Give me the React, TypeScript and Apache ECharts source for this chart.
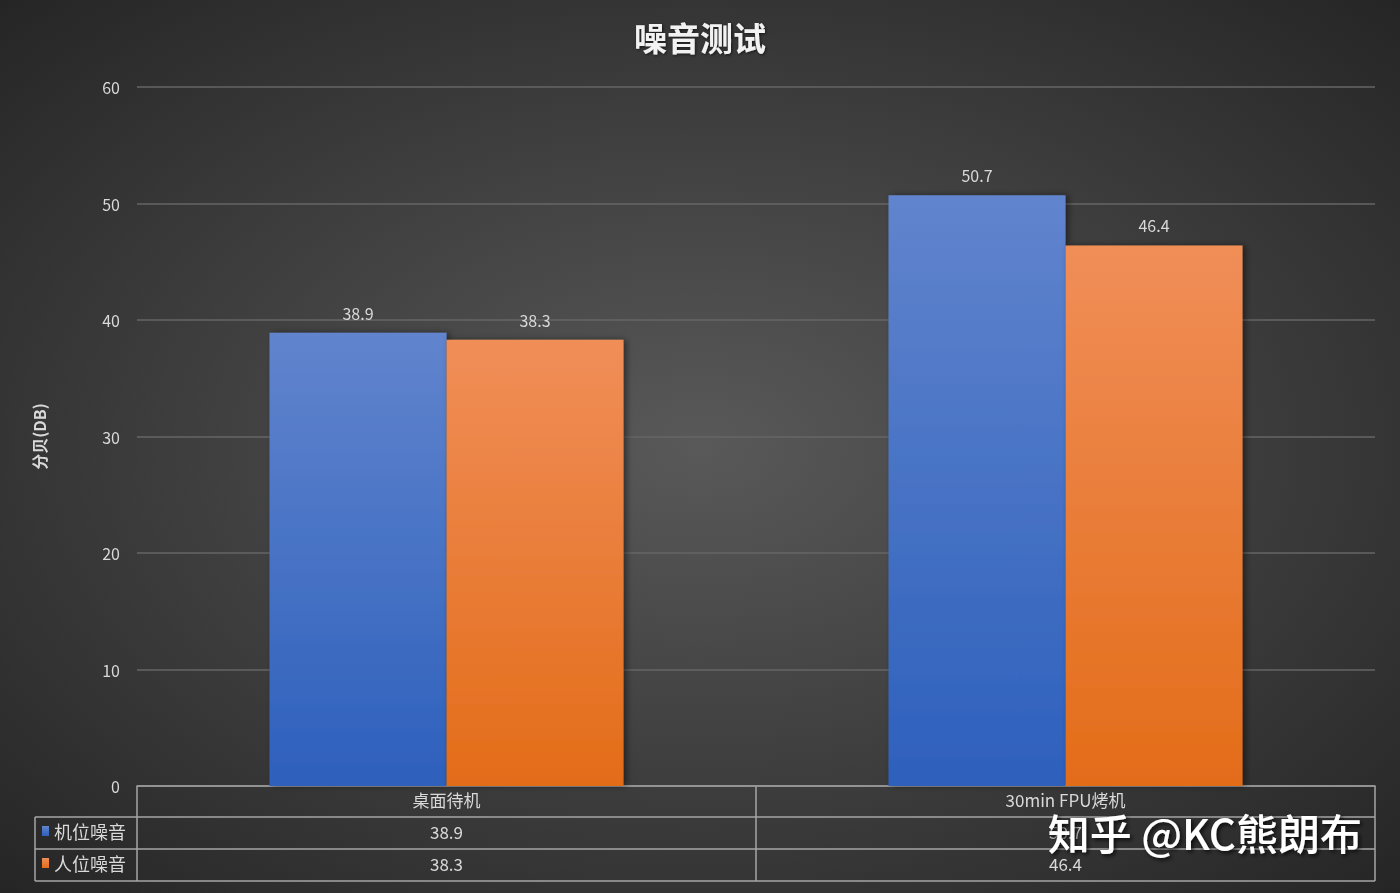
import React, { useEffect, useRef } from "react";
import * as echarts from "echarts";

const categories = ["桌面待机", "30min FPU烤机"];
const seriesNames = ["机位噪音", "人位噪音"];
const machineNoise = [38.9, 50.7];
const personNoise = [38.3, 46.4];
const yTicks = [0, 10, 20, 30, 40, 50, 60];

const FONT = "'Noto Sans CJK SC', 'Noto Sans', sans-serif";
const TXT = "#d9d9d9";
const LINE = "#a6a6a6";

export default function App() {
  const ref = useRef<HTMLDivElement>(null);
  useEffect(() => {
    if (!ref.current) return;
    const chart = echarts.init(ref.current, undefined, { renderer: "svg" });
    const gl = 137, gr = 1375, gt = 87, gb = 786;
    const mid = (gl + gr) / 2;
    const rows = [817, 849, 881];
    const tableLeft = 35;
    const lines: any[] = [];
    rows.forEach((y) =>
      lines.push({ type: "line", shape: { x1: tableLeft, y1: y, x2: gr, y2: y }, style: { stroke: LINE, lineWidth: 1.5 } })
    );
    lines.push({ type: "line", shape: { x1: tableLeft, y1: rows[0], x2: tableLeft, y2: rows[2] }, style: { stroke: LINE, lineWidth: 1.5 } });
    [gl, mid, gr].forEach((x) =>
      lines.push({ type: "line", shape: { x1: x, y1: gb, x2: x, y2: rows[2] }, style: { stroke: LINE, lineWidth: 1.5 } })
    );

    const valueAxes = [machineNoise, personNoise].map((arr, i) => ({
      type: "category",
      data: categories,
      position: "bottom",
      offset: 32 * (i + 1),
      axisLine: { show: false },
      axisTick: { show: false },
      axisLabel: {
        color: TXT,
        fontSize: 17,
        fontFamily: FONT,
        margin: 5,
        formatter: (_v: string, idx: number) => String(arr[idx]),
      },
    }));

    const grad = (top: string, bottom: string) =>
      new echarts.graphic.LinearGradient(0, 0, 0, 1, [
        { offset: 0, color: top },
        { offset: 1, color: bottom },
      ]);

    chart.setOption({
      animation: false,
      backgroundColor: {
        type: "radial",
        x: 0.5,
        y: 0.5,
        r: 0.71,
        colorStops: [
          { offset: 0, color: "#595959" },
          { offset: 1, color: "#252525" },
        ],
      },
      title: {
        text: "噪音测试",
        left: "center",
        top: 15,
        textStyle: {
          color: "#f2f2f2",
          fontSize: 33,
          fontWeight: "bold",
          fontFamily: FONT,
          textShadowColor: "rgba(0,0,0,0.6)",
          textShadowBlur: 3,
          textShadowOffsetX: 1,
          textShadowOffsetY: 1,
        },
      },
      legend: {
        orient: "vertical",
        left: 42,
        top: 821,
        padding: 0,
        itemGap: 12,
        itemWidth: 7,
        itemHeight: 10,
        icon: "rect",
        data: seriesNames,
        textStyle: { color: TXT, fontSize: 18, fontFamily: FONT, lineHeight: 20 },
      },
      grid: { left: gl, right: 1400 - gr, top: gt, bottom: 893 - gb },
      xAxis: [
        {
          type: "category",
          data: categories,
          axisLine: { show: true, lineStyle: { color: LINE, width: 1.5 } },
          axisTick: { show: false },
          axisLabel: { color: TXT, fontSize: 17, fontFamily: FONT, margin: 5 },
        },
        ...valueAxes,
      ],
      yAxis: {
        type: "value",
        min: yTicks[0],
        max: yTicks[yTicks.length - 1],
        interval: 10,
        name: "分贝(DB)",
        nameLocation: "middle",
        nameRotate: 90,
        nameGap: 90,
        nameTextStyle: { color: TXT, fontSize: 16, fontWeight: "bold", fontFamily: FONT },
        axisLine: { show: false },
        axisTick: { show: false },
        axisLabel: { color: TXT, fontSize: 16, fontFamily: FONT, margin: 17 },
        splitLine: { lineStyle: { color: "#666666", width: 1.5 } },
      },
      series: [
        {
          name: seriesNames[0],
          type: "bar",
          data: machineNoise,
          barWidth: 177,
          barGap: "0%",
          itemStyle: {
            color: grad("#6184cd", "#2d60bc"),
            shadowColor: "rgba(0,0,0,0.45)",
            shadowBlur: 6,
            shadowOffsetX: 3,
          },
          label: { show: true, position: "top", distance: 12, color: TXT, fontSize: 16, fontFamily: FONT },
        },
        {
          name: seriesNames[1],
          type: "bar",
          data: personNoise,
          barWidth: 177,
          itemStyle: {
            color: grad("#f08e58", "#e36c19"),
            shadowColor: "rgba(0,0,0,0.45)",
            shadowBlur: 6,
            shadowOffsetX: 3,
          },
          label: { show: true, position: "top", distance: 12, color: TXT, fontSize: 16, fontFamily: FONT },
        },
      ],
      graphic: [
        ...lines,
        {
          type: "text",
          right: 38,
          top: 810,
          z: 100,
          style: {
            text: "知乎 @KC熊朗布",
            fill: "#ffffff",
            fontSize: 42,
            fontWeight: 500,
            fontFamily: FONT,
            textShadowColor: "rgba(0,0,0,0.8)",
            textShadowBlur: 4,
            textShadowOffsetX: 2,
            textShadowOffsetY: 2,
          },
        },
      ],
    });
    return () => chart.dispose();
  }, []);
  return (
    <div
      ref={ref}
      style={{ position: "fixed", left: 0, top: 0, width: 1400, height: 893 }}
    />
  );
}
